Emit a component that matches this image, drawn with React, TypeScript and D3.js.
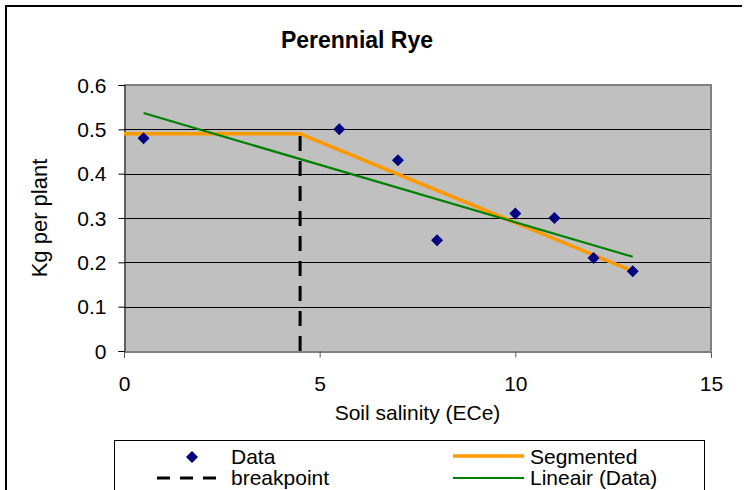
import React, { useRef, useEffect } from 'react';
import * as d3 from 'd3';

// measured data (soil salinity vs yield)
const salinity = [0.5, 5.5, 7, 8, 10, 11, 12, 13];
const yieldKg = [0.48, 0.5, 0.43, 0.25, 0.31, 0.3, 0.21, 0.18];

// segmented model (plateau then linear decline)
const segX = [0, 4.5, 13];
const segY = [0.49, 0.49, 0.18];

// breakpoint
const breakX = 4.5;
const breakY = 0.49;

const xTicks = [0, 5, 10, 15];
const yTicks = [0, 0.1, 0.2, 0.3, 0.4, 0.5, 0.6];

const FONT = "'Liberation Sans', Arial, sans-serif";

const App = () => {
  const svgRef = useRef<SVGSVGElement>(null);

  useEffect(() => {
    const width = 747;
    const height = 490;
    const svg = d3.select(svgRef.current)
      .attr('width', width)
      .attr('height', height);
    svg.selectAll('*').remove();

    svg.append('rect').attr('width', width).attr('height', height).attr('fill', '#fff');

    // outer chart border (only top and left visible)
    svg.append('path')
      .attr('d', 'M6,490 L6,6 L742,6')
      .attr('fill', 'none')
      .attr('stroke', '#000')
      .attr('stroke-width', 2);

    const x = d3.scaleLinear().domain([0, 15]).range([124, 711]);
    const y = d3.scaleLinear().domain([0, 0.6]).range([351, 85]);

    // plot area
    svg.append('rect')
      .attr('x', x(0)).attr('y', y(0.6))
      .attr('width', x(15) - x(0)).attr('height', y(0) - y(0.6))
      .attr('fill', '#c0c0c0');

    // gridlines
    svg.append('g')
      .selectAll('line')
      .data(yTicks.filter(d => d > 0 && d < 0.6))
      .join('line')
      .attr('x1', x(0)).attr('x2', x(15))
      .attr('y1', d => Math.round(y(d)) + 0.5).attr('y2', d => Math.round(y(d)) + 0.5)
      .attr('stroke', '#000')
      .attr('stroke-width', 1);

    // top and right plot border
    svg.append('path')
      .attr('d', `M${x(0)},${y(0.6)} L${x(15)},${y(0.6)} L${x(15)},${y(0)}`)
      .attr('fill', 'none')
      .attr('stroke', '#808080')
      .attr('stroke-width', 2);

    // y axis
    const yAxis = svg.append('g')
      .attr('transform', `translate(${x(0) + 0.5},0)`)
      .call(d3.axisLeft(y).tickValues(yTicks).tickSize(6).tickFormat(d => String(d)));
    yAxis.select('.domain').attr('stroke', '#000');
    yAxis.selectAll('text')
      .attr('font-family', FONT).attr('font-size', 21).attr('fill', '#000')
      .attr('x', -18).attr('dy', '0.34em');

    // x axis
    const xAxis = svg.append('g')
      .attr('transform', `translate(0,${y(0) + 0.5})`)
      .call(d3.axisBottom(x).tickValues(xTicks).tickSize(6).tickFormat(d => String(d)));
    xAxis.select('.domain').attr('stroke', '#000');
    xAxis.selectAll('.tick line').attr('stroke', '#555');
    xAxis.selectAll('text')
      .attr('font-family', FONT).attr('font-size', 21).attr('fill', '#000')
      .attr('y', 39).attr('dy', 0);

    // linear trendline of the data (least squares)
    const mx = d3.mean(salinity) as number;
    const my = d3.mean(yieldKg) as number;
    const sxy = d3.sum(salinity, (v, i) => (v - mx) * (yieldKg[i] - my));
    const sxx = d3.sum(salinity, v => (v - mx) * (v - mx));
    const slope = sxy / sxx;
    const x0 = d3.min(salinity) as number;
    const x1 = d3.max(salinity) as number;
    const trend: [number, number][] = [x0, x1].map(v => [v, my + slope * (v - mx)]);

    const line = d3.line<[number, number]>().x(d => x(d[0])).y(d => y(d[1]));

    // breakpoint
    svg.append('line')
      .attr('x1', x(breakX)).attr('x2', x(breakX))
      .attr('y1', y(0)).attr('y2', y(breakY))
      .attr('stroke', '#000').attr('stroke-width', 3)
      .attr('stroke-dasharray', '15,10');

    svg.append('path')
      .attr('d', line(segX.map((v, i) => [v, segY[i]] as [number, number])))
      .attr('fill', 'none').attr('stroke', '#ff9900').attr('stroke-width', 3.5);

    svg.append('path')
      .attr('d', line(trend))
      .attr('fill', 'none').attr('stroke', '#008000').attr('stroke-width', 2.2);

    const diamond = d3.symbol(d3.symbolSquare, 72)();
    svg.append('g')
      .selectAll('path')
      .data(salinity)
      .join('path')
      .attr('d', diamond)
      .attr('transform', (d, i) => `translate(${x(d)},${y(yieldKg[i])}) rotate(45)`)
      .attr('fill', '#000080');

    // titles
    svg.append('text')
      .attr('x', 357).attr('y', 48)
      .attr('text-anchor', 'middle')
      .attr('font-family', FONT).attr('font-size', 23).attr('font-weight', 'bold')
      .text('Perennial Rye');

    svg.append('text')
      .attr('x', (x(0) + x(15)) / 2).attr('y', 420)
      .attr('text-anchor', 'middle')
      .attr('font-family', FONT).attr('font-size', 21)
      .text('Soil salinity (ECe)');

    svg.append('text')
      .attr('transform', `translate(47,${(y(0) + y(0.6)) / 2}) rotate(-90)`)
      .attr('text-anchor', 'middle')
      .attr('font-family', FONT).attr('font-size', 22)
      .text('Kg per plant');

    // legend
    const lg = svg.append('g');
    lg.append('rect')
      .attr('x', 114.5).attr('y', 440.5).attr('width', 590).attr('height', 70)
      .attr('fill', '#fff').attr('stroke', '#000').attr('stroke-width', 1);

    lg.append('path')
      .attr('d', diamond)
      .attr('transform', 'translate(192,457) rotate(45)')
      .attr('fill', '#000080');
    lg.append('line')
      .attr('x1', 157).attr('x2', 221).attr('y1', 478).attr('y2', 478)
      .attr('stroke', '#000').attr('stroke-width', 3).attr('stroke-dasharray', '13,10');
    lg.append('line')
      .attr('x1', 453).attr('x2', 524).attr('y1', 456).attr('y2', 456)
      .attr('stroke', '#ff9900').attr('stroke-width', 3.5);
    lg.append('line')
      .attr('x1', 453).attr('x2', 524).attr('y1', 478).attr('y2', 478)
      .attr('stroke', '#008000').attr('stroke-width', 2.2);

    const legendText = [
      { x: 231, y: 464, t: 'Data' },
      { x: 231, y: 485, t: 'breakpoint' },
      { x: 530, y: 464, t: 'Segmented' },
      { x: 530, y: 485, t: 'Lineair (Data)' },
    ];
    lg.selectAll('text.lt')
      .data(legendText)
      .join('text')
      .attr('class', 'lt')
      .attr('x', d => d.x).attr('y', d => d.y)
      .attr('font-family', FONT).attr('font-size', 21)
      .text(d => d.t);
  }, []);

  return (
    <svg ref={svgRef} style={{ position: 'absolute', left: 0, top: 0 }}></svg>
  );
};

export default App;
